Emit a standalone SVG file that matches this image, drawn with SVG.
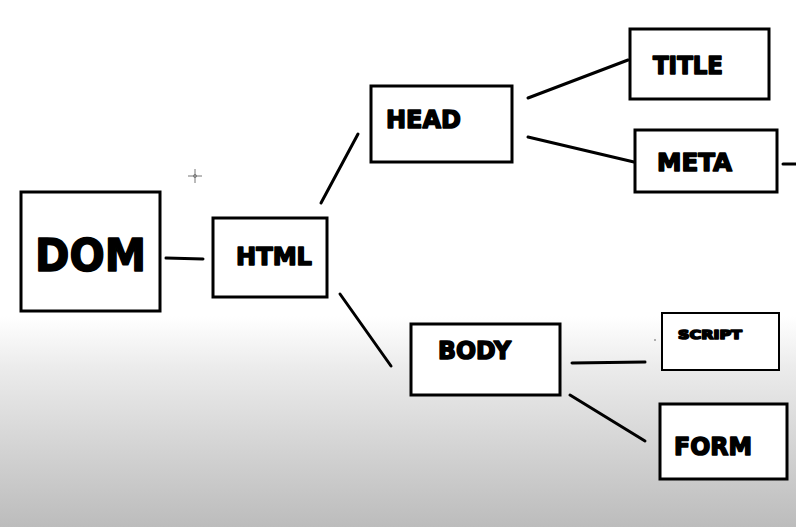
<svg xmlns="http://www.w3.org/2000/svg" width="796" height="527" viewBox="0 0 796 527">
<defs>
<linearGradient id="bg" x1="0" y1="0" x2="0" y2="1">
<stop offset="0" stop-color="#ffffff"/>
<stop offset="0.6" stop-color="#ffffff"/>
<stop offset="0.7" stop-color="#ebebeb"/>
<stop offset="1" stop-color="#bcbcbc"/>
</linearGradient>
<style>
.box{fill:#fff;stroke:#000;stroke-width:3}
.thin{fill:#fff;stroke:#000;stroke-width:2}
.lbl{font-family:"DejaVu Sans","Liberation Sans",sans-serif;font-weight:bold;fill:#000;stroke:#000;stroke-width:1.6;stroke-linejoin:round}
.ln{stroke:#000;stroke-width:3;stroke-linecap:round;fill:none}
</style>
</defs>
<rect x="0" y="0" width="796" height="527" fill="url(#bg)"/>
<g id="cursor" stroke="#777" stroke-width="1" fill="none">
<line x1="188" y1="176" x2="202" y2="176"/>
<line x1="195" y1="169" x2="195" y2="183"/>
<circle cx="195" cy="176" r="1.5"/>
</g>
<g id="connectors">
<line class="ln" x1="166" y1="258" x2="203" y2="259"/>
<line class="ln" x1="321" y1="203" x2="358" y2="134"/>
<line class="ln" x1="528" y1="98" x2="628" y2="60"/>
<line class="ln" x1="528" y1="137" x2="634" y2="162"/>
<line class="ln" x1="783" y1="164" x2="796" y2="164"/>
<line class="ln" x1="340" y1="294" x2="391" y2="366"/>
<line class="ln" x1="572" y1="363" x2="645" y2="362"/>
<line class="ln" x1="570" y1="395" x2="645" y2="441"/>
<circle cx="655" cy="340" r="0.8" fill="#555"/>
</g>
<g id="dom"><rect class="box" x="21" y="192" width="139" height="119"/><text class="lbl" x="35" y="271" font-size="45" stroke-width="3" textLength="111" lengthAdjust="spacingAndGlyphs">DOM</text></g>
<g id="html"><rect class="box" x="213" y="218" width="114" height="79"/><text class="lbl" x="236" y="265" font-size="25" textLength="76" lengthAdjust="spacingAndGlyphs">HTML</text></g>
<g id="head"><rect class="box" x="371" y="86" width="141" height="76"/><text class="lbl" x="386" y="128" font-size="25" textLength="75" lengthAdjust="spacingAndGlyphs">HEAD</text></g>
<g id="title"><rect class="box" x="630" y="29" width="139" height="70"/><text class="lbl" x="653" y="74" font-size="24" textLength="70" lengthAdjust="spacingAndGlyphs">TITLE</text></g>
<g id="meta"><rect class="box" x="635" y="130" width="142" height="62"/><text class="lbl" x="657" y="171" font-size="25" textLength="75" lengthAdjust="spacingAndGlyphs">META</text></g>
<g id="body"><rect class="box" x="411" y="324" width="149" height="71"/><text class="lbl" x="438" y="359" font-size="24" textLength="73" lengthAdjust="spacingAndGlyphs">BODY</text></g>
<g id="script"><rect class="thin" x="662" y="313" width="117" height="57"/><text class="lbl" x="678" y="339" font-size="12.5" stroke-width="0.8" textLength="64" lengthAdjust="spacingAndGlyphs">SCRIPT</text></g>
<g id="form"><rect class="box" x="660" y="404" width="127" height="75"/><text class="lbl" x="674" y="455" font-size="25" textLength="78" lengthAdjust="spacingAndGlyphs">FORM</text></g>
</svg>
